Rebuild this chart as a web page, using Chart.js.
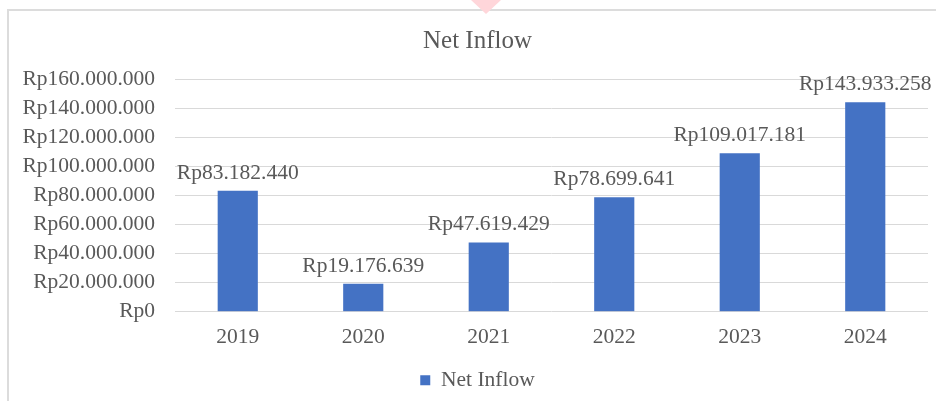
<!DOCTYPE html>
<html>
<head>
<meta charset="utf-8">
<script src="https://cdn.jsdelivr.net/npm/chart.js@4.4.1/dist/chart.umd.min.js"></script>
<style>
  body { margin: 0; background: #fff; }
  #wrap { position: relative; width: 936px; height: 401px; overflow: hidden; }
  #frame { position: absolute; left: 7px; top: 9px; width: 960px; height: 420px; border: 2px solid #dcdcdc; box-sizing: border-box; }
  #mark { position: absolute; left: 471px; top: 0; width: 0; height: 0;
          border-left: 15px solid transparent; border-right: 15px solid transparent; border-top: 14px solid #ffd6da; }
  canvas { position: absolute; left: 0; top: 0; }
</style>
</head>
<body>
<div id="wrap">
  <div id="frame"></div>
  <div id="mark"></div>
  <canvas id="chartInflow" width="955" height="401"></canvas>
</div>
<script>
const tahun = ['2019', '2020', '2021', '2022', '2023', '2024'];
const netInflow = [83182440, 19176639, 47619429, 78699641, 109017181, 143933258];
const judul = 'Net Inflow';

const formatRp = (v) => 'Rp' + Math.round(v).toString().replace(/\B(?=(\d{3})+(?!\d))/g, '.');

const fontSerif = "'Liberation Serif', 'Times New Roman', serif";
const abu = '#595959';
const ukuran = 21.5;

// label nilai di atas tiap batang
const labelBatang = {
    id: 'labelBatang',
    afterDatasetsDraw(chart) {
        const ctx = chart.ctx;
        const meta = chart.getDatasetMeta(0);
        ctx.save();
        ctx.font = `${ukuran}px ${fontSerif}`;
        ctx.fillStyle = abu;
        ctx.textAlign = 'center';
        ctx.textBaseline = 'alphabetic';
        meta.data.forEach((bar, i) => {
            ctx.fillText(formatRp(netInflow[i]), bar.x, bar.y - 12);
        });
        ctx.restore();
    }
};

const ctx = document.getElementById('chartInflow').getContext('2d');
const chartInflow = new Chart(ctx, {
    type: 'bar',
    data: {
        labels: tahun,
        datasets: [{
            label: judul,
            data: netInflow,
            backgroundColor: '#4472c4',
            barPercentage: 0.32,
            categoryPercentage: 1
        }]
    },
    options: {
        responsive: false,
        animation: false,
        layout: { padding: { left: 0, right: 0, top: 0, bottom: 0 } },
        plugins: {
            title: {
                display: true,
                text: judul,
                color: abu,
                font: { family: fontSerif, size: 25, weight: 'normal' },
                padding: { top: 26, bottom: 23 }
            },
            legend: {
                position: 'bottom',
                labels: {
                    color: abu,
                    font: { family: fontSerif, size: ukuran },
                    boxWidth: 10,
                    boxHeight: 10,
                    padding: 14
                }
            },
            tooltip: { enabled: false }
        },
        scales: {
            x: {
                grid: { display: false },
                border: { display: false },
                ticks: { color: abu, font: { family: fontSerif, size: ukuran }, padding: 5 }
            },
            y: {
                min: 0,
                max: 160000000,
                afterFit: (s) => { s.width = 175; },
                grid: { color: '#d9d9d9', drawTicks: false },
                border: { display: false },
                ticks: {
                    stepSize: 20000000,
                    color: abu,
                    padding: 20,
                    font: { family: fontSerif, size: ukuran },
                    callback: (v) => formatRp(v)
                }
            },
            // sumbu kosong di kanan supaya judul & legenda tetap di tengah bingkai
            kanan: {
                position: 'right',
                afterFit: (s) => { s.width = 27; },
                grid: { display: false },
                border: { display: false },
                ticks: { display: false }
            }
        }
    },
    plugins: [labelBatang]
});
</script>
</body>
</html>
